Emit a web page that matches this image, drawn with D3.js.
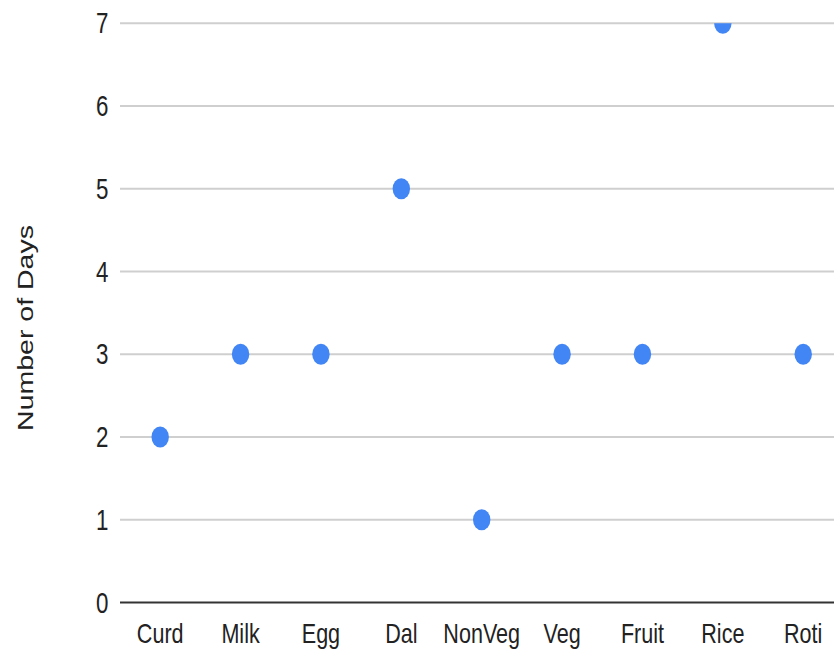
<!DOCTYPE html>
<html><head><meta charset="utf-8">
<script src="https://cdn.jsdelivr.net/npm/d3@7"></script>
<style>body{margin:0;background:#fff}svg{display:block}</style>
</head><body>
<script>
const categories = ["Curd","Milk","Egg","Dal","NonVeg","Veg","Fruit","Rice","Roti"];
const values = [2,3,3,5,1,3,3,7,3];
const yTicks = [0,1,2,3,4,5,6,7];
const yTitle = "Number of Days";

const W = 834, H = 652;
const sx = 0.77; // horizontal text compression
const svg = d3.select("body").append("svg").attr("width", W).attr("height", H);

const x = d3.scalePoint().domain(categories).range([120, 843.4]).padding(0.5);
const y = d3.scaleLinear().domain([0,7]).range([602.5, 23.3]);

// gridlines
svg.append("g").selectAll("line").data(yTicks.filter(d=>d>0)).join("line")
  .attr("x1",120).attr("x2",W).attr("y1",d=>y(d)).attr("y2",d=>y(d))
  .attr("stroke","#cfcfcf").attr("stroke-width",2);

// baseline axis
svg.append("line").attr("x1",120).attr("x2",W).attr("y1",y(0)).attr("y2",y(0))
  .attr("stroke","#333").attr("stroke-width",2);

const font = "'Liberation Sans', Arial, sans-serif";
// y tick labels
svg.append("g").selectAll("text").data(yTicks).join("text")
  .attr("transform",d=>`translate(108.5,${y(d)+10}) scale(${sx},1)`)
  .attr("text-anchor","end").attr("font-family",font).attr("font-size",29)
  .attr("fill","#222").text(d=>d);

// x labels
svg.append("g").selectAll("text").data(categories).join("text")
  .attr("transform",d=>`translate(${x(d)},643) scale(${sx},1)`)
  .attr("text-anchor","middle").attr("font-family",font).attr("font-size",28)
  .attr("fill","#222").text(d=>d);

// y title
svg.append("text")
  .attr("transform",`translate(33,328) scale(${sx},1) rotate(-90)`)
  .attr("text-anchor","middle").attr("font-family",font).attr("font-size",28.5)
  .attr("fill","#222").text(yTitle);

// clip
svg.append("clipPath").attr("id","plot").append("rect")
  .attr("x",110).attr("y",y(7)).attr("width",W).attr("height",H);

svg.append("g").attr("clip-path","url(#plot)").selectAll("ellipse")
  .data(categories.map((c,i)=>({c,v:values[i]}))).join("ellipse")
  .attr("cx",d=>x(d.c)).attr("cy",d=>y(d.v)).attr("rx",8.7).attr("ry",10.5)
  .attr("fill","#4285F4");
</script>
</body></html>
